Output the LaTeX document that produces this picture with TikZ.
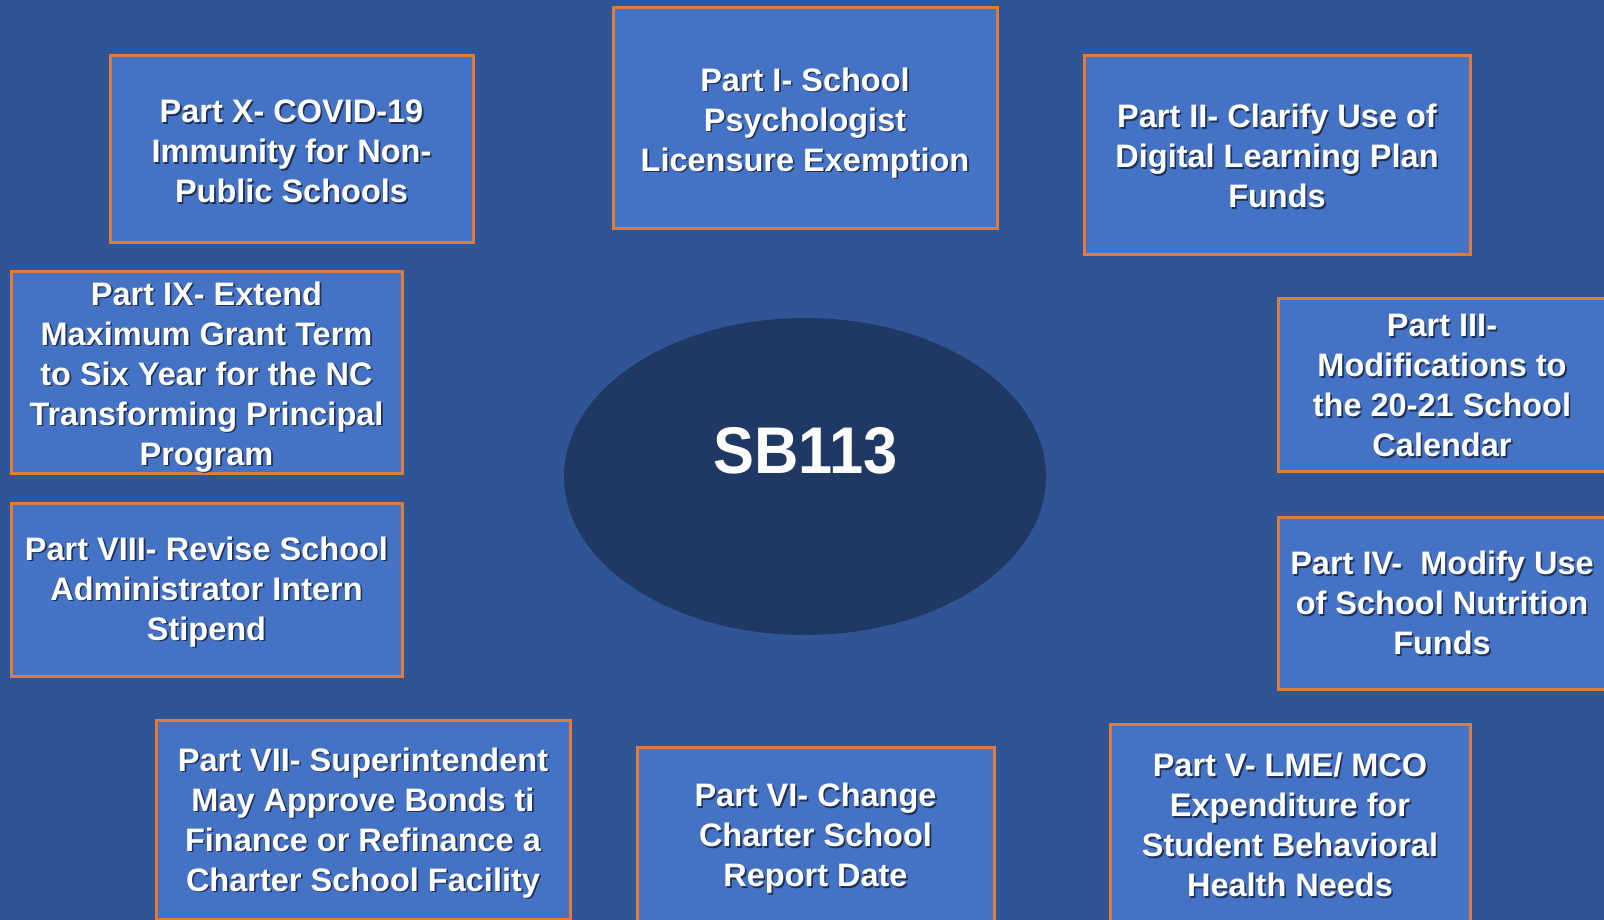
\documentclass[tikz,border=0pt]{standalone}
\usepackage{fontspec}
\setmainfont{Liberation Sans}
\usetikzlibrary{shapes.geometric}
\definecolor{bgblue}{HTML}{2F5597}
\definecolor{boxblue}{HTML}{4472C4}
\definecolor{boxedge}{HTML}{E07B39}
\definecolor{navy}{HTML}{203864}
\definecolor{txtshadow}{HTML}{1F3057}
\newcommand\shl[1]{\leavevmode\rlap{\kern1.6pt\raisebox{-1.8pt}{\textcolor{txtshadow}{#1}}}#1}
% first line with a strut that moves the block down by (#1 - 23.7pt)/2
\newcommand\fln[2]{\shl{\rule{0pt}{#1}#2}}
\tikzset{
  partbox/.style={draw=boxedge, line width=3pt, fill=boxblue, rectangle, inner sep=0pt,
    text=white, align=center, font=\fontsize{32.5}{40}\selectfont\bfseries},
  hub/.style={ellipse, fill=navy, inner sep=0pt, minimum width=482pt, minimum height=317pt},
  hubtext/.style={text=white, inner sep=0pt, font=\fontsize{66}{70}\selectfont\bfseries}
}
\begin{document}
\begin{tikzpicture}[x=1pt,y=-1pt]
\useasboundingbox (0,0) rectangle (1604,920);
\fill[bgblue] (0,0) rectangle (1604,920);
\begin{scope}
\clip (0,0) rectangle (1604,920);
\node[hub] (sb) at (805,476.5) {};
\node[hubtext] (sbt) at (805.5,451) {\scalebox{0.93}[1]{SB113}};
\node[partbox, minimum width=384pt, minimum height=221pt] (p1) at (805,118.5)
  {\fln{33.7pt}{Part I- School}\\\shl{Psychologist}\\\shl{Licensure Exemption}};
\node[partbox, minimum width=386pt, minimum height=199pt] (p2) at (1277,155.5)
  {\fln{25.7pt}{Part II- Clarify Use of}\\\shl{Digital Learning Plan}\\\shl{Funds}};
\node[partbox, minimum width=328pt, minimum height=173pt] (p3) at (1442,384.5)
  {\fln{25.7pt}{Part III-}\\\shl{Modifications to}\\\shl{the 20-21 School}\\\shl{Calendar}};
\node[partbox, minimum width=328pt, minimum height=172pt] (p4) at (1442,603)
  {\fln{25.7pt}{Part IV-\ \ Modify Use}\\\shl{of School Nutrition}\\\shl{Funds}};
\node[partbox, minimum width=360pt, minimum height=201pt] (p5) at (1290,824.5)
  {\fln{25.7pt}{Part V- LME/ MCO}\\\shl{Expenditure for}\\\shl{Student Behavioral}\\\shl{Health Needs}};
\node[partbox, minimum width=357pt, minimum height=178pt] (p6) at (815.5,836)
  {\fln{29.7pt}{Part VI- Change}\\\shl{Charter School}\\\shl{Report Date}};
\node[partbox, minimum width=414pt, minimum height=199pt] (p7) at (363,819.5)
  {\fln{31.7pt}{Part VII- Superintendent}\\\shl{May Approve Bonds ti}\\\shl{Finance or Refinance a}\\\shl{Charter School Facility}};
\node[partbox, minimum width=391pt, minimum height=173pt] (p8) at (206.5,589.5)
  {\fln{29.7pt}{Part VIII- Revise School}\\\shl{Administrator Intern}\\\shl{Stipend}};
\node[partbox, minimum width=391pt, minimum height=201pt] (p9) at (206.5,372.5)
  {\fln{33.7pt}{Part IX- Extend}\\\shl{Maximum Grant Term}\\\shl{to Six Year for the NC}\\\shl{Transforming Principal}\\\shl{Program}};
\node[partbox, minimum width=363pt, minimum height=187pt] (p10) at (291.5,149.5)
  {\fln{27.7pt}{Part X- COVID-19}\\\shl{Immunity for Non-}\\\shl{Public Schools}};
\end{scope}
\end{tikzpicture}
\end{document}
